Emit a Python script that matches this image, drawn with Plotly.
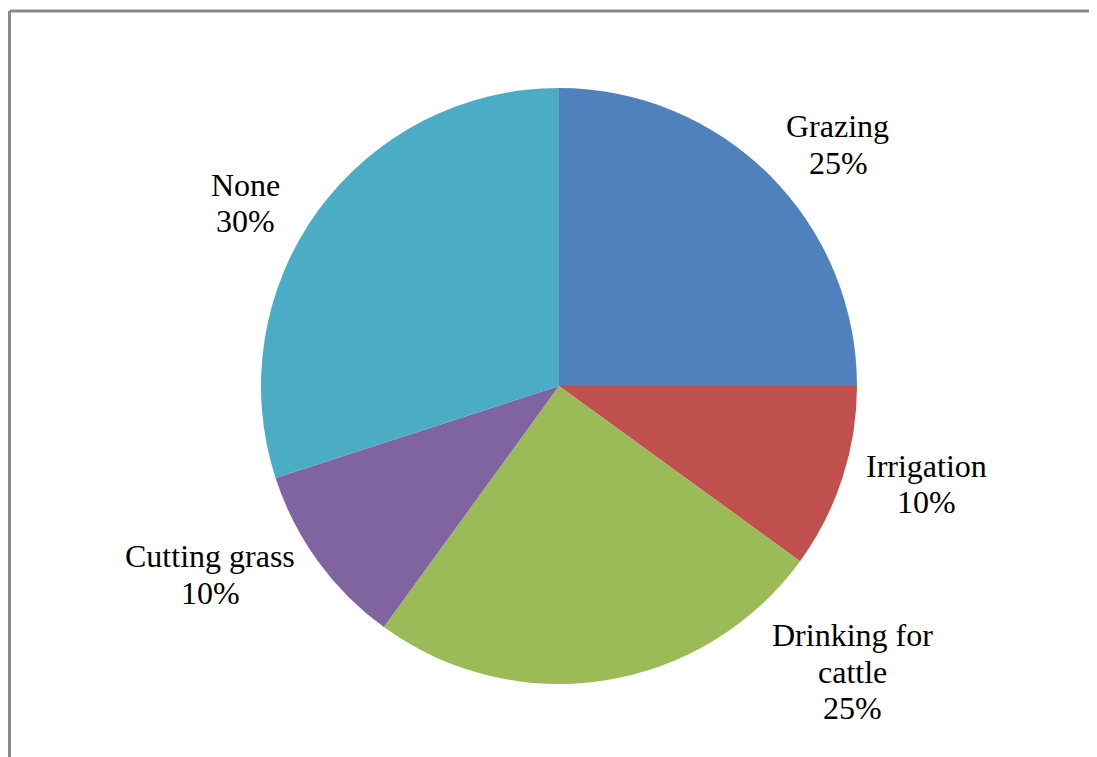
import plotly.graph_objects as go

# page shows figure offset by 8px body margin; work in reference pixels then shift
OFF = 8
W, H = 1097 - OFF, 757 - OFF

labels = ["Grazing", "Irrigation", "Drinking for cattle", "Cutting grass", "None"]
values = [25, 10, 25, 10, 30]
colors = ["#4F81BD", "#C0504D", "#9BBB59", "#8064A2", "#4BACC6"]
label_lines = [["Grazing", "25%"], ["Irrigation", "10%"], ["Drinking for", "cattle", "25%"],
               ["Cutting grass", "10%"], ["None", "30%"]]
# per-line centre x and first baseline y in reference pixels
label_x = [[837, 838], [926, 926], [852, 852, 852], [210, 211], [245, 245]]
label_y0 = [137, 477, 646, 567, 196]
LINE_GAP = 36.3
FS = 32

cx, cy, r = 559 - OFF, 386 - OFF, 298


def px(x):
    return (x - OFF) / W


def py(y):
    return 1 - (y - OFF) / H


fig = go.Figure(go.Pie(
    labels=labels, values=values, sort=False, direction="clockwise", rotation=0,
    marker=dict(colors=colors, line=dict(width=0)),
    textinfo="none", hoverinfo="label+percent", showlegend=False,
    domain=dict(x=[(cx - r) / W, (cx + r) / W], y=[(H - cy - r) / H, (H - cy + r) / H]),
))

base_to_mid = (0.891 - 0.216) / 2 * FS
for lines, xs, y0 in zip(label_lines, label_x, label_y0):
    for k, (t, x) in enumerate(zip(lines, xs)):
        yb = y0 + k * LINE_GAP
        fig.add_annotation(x=px(x), y=py(yb - base_to_mid), xref="paper", yref="paper", text=t,
                           showarrow=False, xanchor="center", yanchor="middle", align="center",
                           font=dict(family="Liberation Serif", size=FS, color="#000000"))

fx, fy = 1.5 / W, 1 - 3 / H
fig.add_shape(type="line", xref="paper", yref="paper", x0=fx, y0=fy, x1=1.01, y1=fy,
              line=dict(color="#898989", width=3))
fig.add_shape(type="line", xref="paper", yref="paper", x0=fx, y0=-0.01, x1=fx, y1=fy,
              line=dict(color="#898989", width=3))

fig.update_layout(width=W, height=H, margin=dict(l=0, r=0, t=0, b=0),
                  paper_bgcolor="white", plot_bgcolor="white")
fig.write_html("out.html")
